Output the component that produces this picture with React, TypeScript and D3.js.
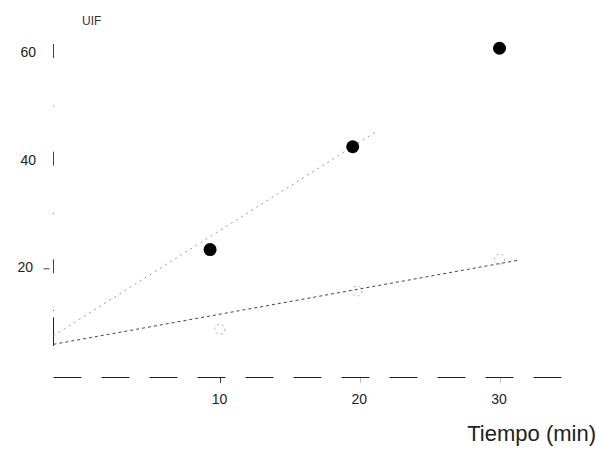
import { useEffect, useRef } from "react";
import * as d3 from "d3";

// readings
const filledTimes = [9.4, 19.6, 30.1];
const filledValues = [23.3, 42.4, 60.7];
const openTimes = [10.1, 19.9, 30.1];
const openValues = [8.5, 15.6, 21.5];
const upperLine = [[-1.8, 7.3], [21.4, 45.4]];
const lowerLine = [[-1.8, 5.7], [31.4, 21.3]];
const interceptRange = [5.4, 10.7];
const yTicks = [20, 40, 60];
const xTicks = [10, 20, 30];

function Chart() {
  const ref = useRef<SVGSVGElement>(null);

  useEffect(() => {
    const svg = d3.select(ref.current);
    svg.selectAll("*").remove();

    const width = 596;
    const height = 452;
    const font = "Liberation Sans, Arial, sans-serif";

    const x = d3.scaleLinear().domain([-1.8, 35]).range([53.5, 568]);
    const y = d3.scaleLinear().domain([0, 60]).range([375, 52]);

    svg.attr("width", width).attr("height", height);

    // broken y axis: short pieces at each tick
    const yAxis = svg.append("g").attr("stroke", "#444").attr("stroke-width", 1);
    yAxis
      .selectAll("line.tk")
      .data(yTicks)
      .join("line")
      .attr("class", "tk")
      .attr("x1", x(-1.8))
      .attr("x2", x(-1.8))
      .attr("y1", (d) => y(d) - 8)
      .attr("y2", (d) => y(d) + 6);
    yAxis
      .selectAll("circle.dot")
      .data([50, 30, 12])
      .join("circle")
      .attr("class", "dot")
      .attr("cx", x(-1.8))
      .attr("cy", (d) => y(d))
      .attr("r", 0.6)
      .attr("fill", "#777")
      .attr("stroke", "none");
    yAxis
      .append("line")
      .attr("x1", x(-1.8) - 10)
      .attr("x2", x(-1.8) - 4)
      .attr("y1", y(20) + 1.5)
      .attr("y2", y(20) + 1.5);
    yAxis
      .append("line")
      .attr("x1", x(-1.8))
      .attr("x2", x(-1.8))
      .attr("y1", y(interceptRange[1]))
      .attr("y2", y(interceptRange[0]))
      .attr("stroke", "#222");

    svg
      .append("g")
      .selectAll("text")
      .data(yTicks)
      .join("text")
      .attr("x", (d) => (d === 20 ? 33 : 36))
      .attr("y", (d) => y(d))
      .attr("dy", "0.35em")
      .attr("text-anchor", "end")
      .attr("font-family", font)
      .attr("font-size", 14)
      .attr("fill", "#222")
      .text((d) => d);

    svg
      .append("text")
      .attr("x", 82)
      .attr("y", 25)
      .attr("font-family", font)
      .attr("font-size", 12)
      .attr("fill", "#333")
      .text("UIF");

    // baseline
    svg
      .append("line")
      .attr("x1", x(-1.8))
      .attr("x2", 575)
      .attr("y1", y(0) + 2.5)
      .attr("y2", y(0) + 2.5)
      .attr("stroke", "#222")
      .attr("stroke-width", 1)
      .attr("stroke-dasharray", "28,20");

    svg
      .append("g")
      .selectAll("line")
      .data(xTicks)
      .join("line")
      .attr("x1", (d) => Math.round(x(d)) + 2.5)
      .attr("x2", (d) => Math.round(x(d)) + 2.5)
      .attr("y1", y(0) + 3)
      .attr("y2", y(0) + 8)
      .attr("stroke", (d) => (d === 10 ? "#333" : "#bbb"));

    svg
      .append("g")
      .selectAll("text")
      .data(xTicks)
      .join("text")
      .attr("x", (d) => x(d) + 1)
      .attr("y", 404)
      .attr("text-anchor", "middle")
      .attr("font-family", font)
      .attr("font-size", 14)
      .attr("fill", "#222")
      .text((d) => d);

    svg
      .append("text")
      .attr("x", 596)
      .attr("y", 441)
      .attr("text-anchor", "end")
      .attr("font-family", font)
      .attr("font-size", 22)
      .attr("fill", "#222")
      .text("Tiempo (min)");

    // fitted lines
    const line = d3
      .line<number[]>()
      .x((d) => x(d[0]))
      .y((d) => y(d[1]));

    svg
      .append("path")
      .attr("d", line(upperLine))
      .attr("fill", "none")
      .attr("stroke", "#999")
      .attr("stroke-width", 1)
      .attr("stroke-dasharray", "2,4");

    svg
      .append("path")
      .attr("d", line(lowerLine))
      .attr("fill", "none")
      .attr("stroke", "#444")
      .attr("stroke-width", 1)
      .attr("stroke-dasharray", "3,3");

    // open symbols (faint)
    svg
      .append("g")
      .selectAll("circle")
      .data(openTimes.map((t, i) => [t, openValues[i]]))
      .join("circle")
      .attr("cx", (d) => x(d[0]))
      .attr("cy", (d) => y(d[1]))
      .attr("r", 5)
      .attr("fill", "none")
      .attr("stroke", "#aaa")
      .attr("stroke-width", 1)
      .attr("stroke-dasharray", "2,3");

    // filled points
    svg
      .append("g")
      .selectAll("circle")
      .data(filledTimes.map((t, i) => [t, filledValues[i]]))
      .join("circle")
      .attr("cx", (d) => x(d[0]))
      .attr("cy", (d) => y(d[1]))
      .attr("r", 6.5)
      .attr("fill", "#000");
  }, []);

  return <svg ref={ref} style={{ display: "block" }}></svg>;
}

export default function App() {
  return (
    <>
      <style>{`body{margin:0;background:#fff}`}</style>
      <Chart />
    </>
  );
}
